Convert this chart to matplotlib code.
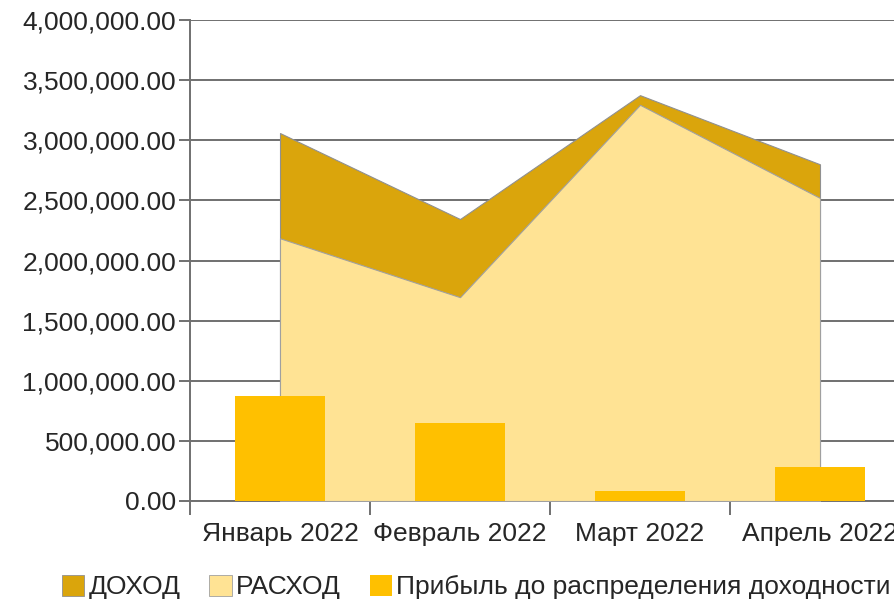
import matplotlib
matplotlib.use('Agg')
import matplotlib.pyplot as plt
from matplotlib.ticker import FuncFormatter, FixedLocator
from matplotlib.patches import Patch
import numpy as np

plt.rcParams['font.family'] = ['Liberation Sans', 'DejaVu Sans']

months = ['Январь 2022', 'Февраль 2022', 'Март 2022', 'Апрель 2022']
dohod = [3060000, 2345000, 3375000, 2800000]
rashod = [2185000, 1695000, 3295000, 2520000]
pribyl = [875000, 650000, 80000, 280000]

c_dohod = '#DAA50C'
c_rashod = '#FFE394'
c_pribyl = '#FFC000'
grid_c = '#707070'
txt_c = '#262626'
fs = 19

fig = plt.figure(figsize=(8.94, 6.02), dpi=100)
ax = fig.add_axes([190/894, 1-501/602, 720/894, 481/602])

x = np.arange(len(months))

ax.fill_between(x, dohod, color=c_dohod, edgecolor='#909090', linewidth=0.8, zorder=2)
ax.fill_between(x, rashod, color=c_rashod, edgecolor='#A0A0A0', linewidth=0.8, zorder=3)
ax.bar(x, pribyl, width=0.5, color=c_pribyl, zorder=4)

ax.set_xlim(-0.5, 3.5)
ax.set_ylim(0, 4000000)
ax.set_yticks(np.arange(0, 4000001, 500000))
ax.yaxis.set_major_formatter(FuncFormatter(lambda v, p: f'{v:,.2f}'))
ax.yaxis.grid(True, color=grid_c, linewidth=1.4, zorder=0)
ax.set_axisbelow(True)

# ticks on category boundaries, labels in the middle
ax.xaxis.set_major_locator(FixedLocator(x - 0.5))
ax.xaxis.set_minor_locator(FixedLocator(x))
ax.set_xticklabels([''] * len(months))
ax.set_xticklabels(months, minor=True)
ax.tick_params(axis='x', which='major', length=10, width=1.4, color=grid_c)
ax.tick_params(axis='x', which='minor', length=0, pad=15, labelsize=fs, labelcolor=txt_c)
ax.tick_params(axis='y', length=8, width=1.4, color=grid_c, labelsize=fs, labelcolor=txt_c, pad=2)

for s in ['top', 'right']:
    ax.spines[s].set_visible(False)
for s in ['left', 'bottom']:
    ax.spines[s].set_color(grid_c)
    ax.spines[s].set_linewidth(1.4)

handles = [Patch(facecolor=c_dohod, edgecolor='#909090', linewidth=0.6),
           Patch(facecolor=c_rashod, edgecolor='#A0A0A0', linewidth=0.6),
           Patch(facecolor=c_pribyl, edgecolor='none')]
labels = ['ДОХОД', 'РАСХОД', 'Прибыль до распределения доходности']
fig.legend(handles, labels, loc='center left', bbox_to_anchor=(62/894, 1-587/602),
           borderpad=0, borderaxespad=0,
           ncol=3, frameon=False, fontsize=fs, handlelength=0.85, handleheight=0.85,
           handletextpad=0.15, columnspacing=1.1, labelcolor=txt_c)

fig.savefig('out.png', dpi=100)
